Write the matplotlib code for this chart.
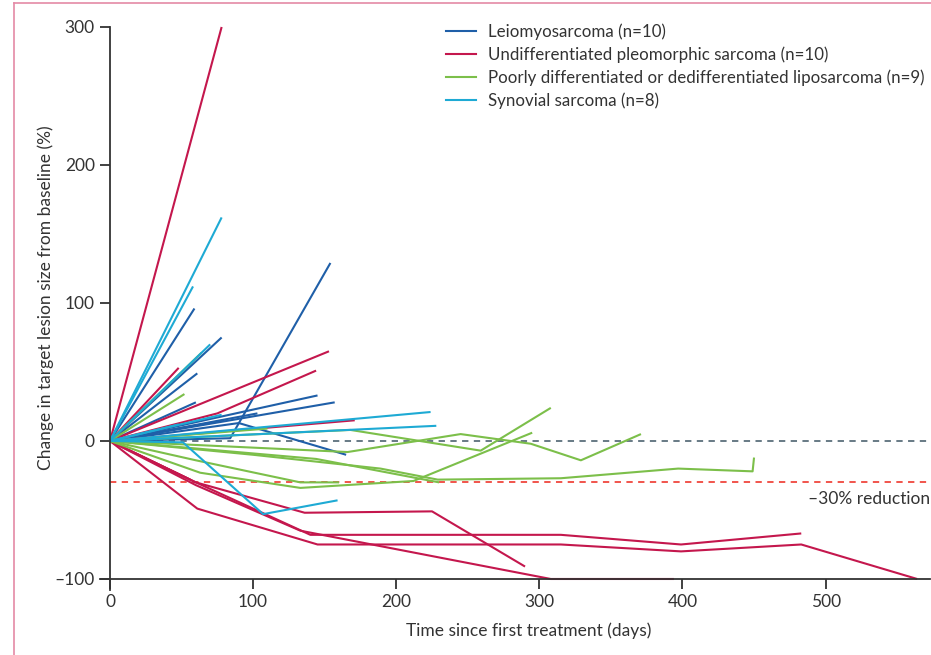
import matplotlib.pyplot as plt
from matplotlib.lines import Line2D

plt.rcParams['font.family'] = ['Lato', 'DejaVu Sans']

# patient trajectories: (days, % change) per histology
leio = [
    ([0, 59], [0, 96]),
    ([0, 78], [0, 75]),
    ([0, 61], [0, 49]),
    ([0, 60], [0, 28]),
    ([0, 84, 154], [0, 2, 129]),
    ([0, 145], [0, 33]),
    ([0, 157], [0, 28]),
    ([0, 90, 165], [0, 13, -10]),
    ([0, 103], [0, 20]),
    ([0, 80], [0, 15]),
]
ups = [
    ([0, 78], [0, 300]),
    ([0, 153], [0, 65]),
    ([0, 75, 144], [0, 20, 51]),
    ([0, 48], [0, 53]),
    ([0, 171], [0, 15]),
    ([0, 60, 140, 315, 399, 483], [0, -30, -68, -68, -75, -67]),
    ([0, 61, 145, 315, 399, 483, 564], [0, -49, -75, -75, -80, -75, -100]),
    ([0, 60, 136, 225, 290], [0, -30, -52, -51, -91]),
    ([0, 60, 133, 233, 308, 394], [0, -32, -65, -85, -100, -100]),
    ([0, 56], [0, -28]),
]
lipo = [
    ([0, 168, 259, 308], [0, 8, -7, 24]),
    ([0, 166, 245, 294, 329, 371], [0, -8, 5, -2, -14, 5]),
    ([0, 63, 133, 212, 295], [0, -23, -34, -29, 6]),
    ([0, 100, 189, 229, 315, 397, 449, 450], [0, -10, -20, -28, -27, -20, -22, -12]),
    ([0, 52], [0, 34]),
    ([0, 64], [0, 64]),
    ([0, 110], [0, 9]),
    ([0, 144, 230], [0, -13, -30]),
    ([0, 60, 133, 160], [0, -14, -30, -30]),
]
syn = [
    ([0, 78], [0, 162]),
    ([0, 58], [0, 112]),
    ([0, 70], [0, 70]),
    ([0, 224], [0, 21]),
    ([0, 63, 228], [0, 3, 11]),
    ([0, 51, 107, 159], [0, -1, -53, -43]),
    ([0, 78], [0, 19]),
    ([0, 48], [0, 12]),
]

groups = [
    ('Leiomyosarcoma (n=10)', '#1f5fa8', leio),
    ('Undifferentiated pleomorphic sarcoma (n=10)', '#c4174d', ups),
    ('Poorly differentiated or dedifferentiated liposarcoma (n=9)', '#7cbf4a', lipo),
    ('Synovial sarcoma (n=8)', '#1eaad4', syn),
]

fs = 12.5
txt = '#333333'

fig = plt.figure(figsize=(9.31, 6.55), dpi=100)
ax = fig.add_axes([0.1074, 0.0992, 0.8916, 0.8596])

ax.axhline(0, xmin=7 / 580, color='#5c6f7c', lw=1.3, ls=(0, (3.5, 3)))
ax.axhline(-30, xmin=7 / 580, color='#f0473e', lw=1.3, ls=(0, (3.5, 3)))

handles = []
for name, col, pts in groups:
    for xs, ys in pts:
        ax.plot(xs, ys, color=col, lw=1.5, clip_on=False, solid_capstyle='butt')
    handles.append(Line2D([], [], color=col, lw=1.5, label=name))

ax.text(573, -42, '\u201330% reduction', ha='right', va='center', fontsize=fs, color=txt)

ax.set_xlim(-7, 573)
ax.set_ylim(-108, 300)
ax.spines['right'].set_visible(False)
ax.spines['top'].set_visible(False)
ax.spines['left'].set_position(('data', 0))
ax.spines['bottom'].set_position(('data', -100))
for s in ('left', 'bottom'):
    ax.spines[s].set_color('#333333')
    ax.spines[s].set_linewidth(1.3)
ax.set_xticks([0, 100, 200, 300, 400, 500])
ax.set_yticks([-100, 0, 100, 200, 300])
ax.set_yticklabels(['\u2013100', '0', '100', '200', '300'])
ax.tick_params(direction='out', length=7, width=1.3, color='#333333',
               labelsize=fs, labelcolor=txt, pad=4)
ax.set_xlabel('Time since first treatment (days)', fontsize=fs, color=txt)
ax.set_ylabel('Change in target lesion size from baseline (%)', fontsize=fs, color=txt)
ax.xaxis.set_label_coords(0.516, -0.057)
ax.yaxis.set_label_coords(-0.056, 0.52)

ax.legend(handles=handles, loc='upper left', bbox_to_anchor=(0.399, 1.034), frameon=False,
          fontsize=12.2, handlelength=1.75, handletextpad=0.7, labelspacing=0.38,
          labelcolor=txt)

# page frame
fig.add_artist(Line2D([14 / 931, 14 / 931], [0, 1 - 3 / 655], color='#e48aa6', lw=1.2))
fig.add_artist(Line2D([14 / 931, 1], [1 - 3 / 655, 1 - 3 / 655], color='#e48aa6', lw=1.2))

fig.savefig('out.png', dpi=100)
